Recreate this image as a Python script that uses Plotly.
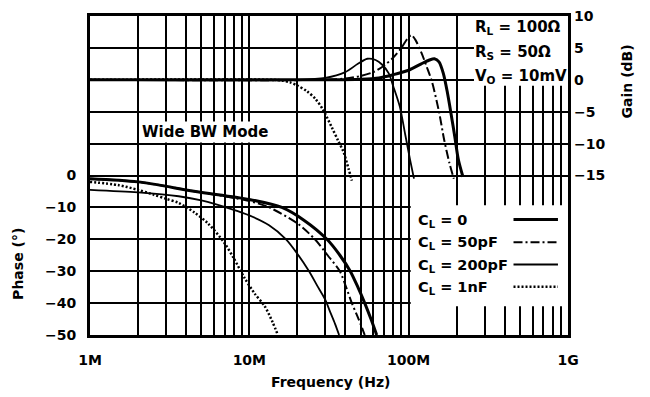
import plotly.graph_objects as go

MHZ = 1e6

# ---- Gain (dB) vs frequency (MHz) ----
gain_f_cl0 = [1, 10, 30, 50, 65, 80, 100, 120, 135, 145, 155, 165, 175, 185, 195, 205, 219]
gain_cl0 = [0, 0, 0, 0.1, 0.3, 0.8, 1.5, 2.5, 3.1, 3.3, 2.8, 1.0, -2.0, -5.5, -9.0, -12.5, -15.2]

gain_f_cl50 = [1, 30, 40, 50, 60, 70, 80, 90, 98, 104, 110, 120, 130, 140, 155, 167, 180, 192]
gain_cl50 = [0, 0, 0.2, 0.6, 1.2, 2.2, 3.5, 5.0, 6.4, 7.0, 6.3, 4.3, 2.0, -0.3, -5.0, -9.4, -13.0, -15.5]

gain_f_cl200 = [1, 20, 30, 40, 48, 55, 62, 68, 75, 80, 88, 95, 102, 108]
gain_cl200 = [0, 0, 0.3, 1.2, 2.5, 3.3, 3.1, 2.4, 1.0, -1.0, -4.2, -8.5, -12.5, -15.5]

gain_f_cl1n = [1, 14, 16, 18, 20, 23, 26, 29, 33, 36, 39, 42, 44]
gain_cl1n = [0, 0, -0.1, -0.4, -0.9, -1.8, -3.0, -4.7, -7.5, -9.5, -11.3, -14.0, -15.8]

# ---- Phase (deg) vs frequency (MHz) ----
phase_f_cl0 = [1, 2, 4.6, 10, 16, 22, 30.7, 37, 43, 48, 53, 58, 63]
phase_cl0 = [-1, -2, -5, -7.5, -10, -14, -20, -25, -30, -35, -40, -45, -50]

phase_f_cl50 = [1, 2, 4.6, 10, 13.3, 20, 25.8, 31, 37, 40.5, 44, 48.5, 53]
phase_cl50 = [-1, -2, -5, -8, -10, -15, -20, -25, -30, -35, -40, -45, -50]

phase_f_cl200 = [1, 2, 3.6, 5, 7.8, 10, 13.3, 17, 20, 23.7, 27, 30, 32, 34.5, 36.6]
phase_cl200 = [-4.5, -5.3, -6.5, -7.8, -10.6, -12.5, -15.6, -20, -24.5, -30, -35, -39, -42.5, -46.5, -50]

phase_f_cl1n = [1, 1.5, 2, 2.5, 3, 3.6, 4.5, 5.5, 6.9, 8, 9.3, 10.8, 12.5, 14, 15.1]
phase_cl1n = [-2, -3, -4.5, -6, -7.3, -8.6, -11.5, -15, -20.8, -26, -32, -37, -41, -46, -50]

# ---- Axis ticks ----
freq_major = [1e6, 1e7, 1e8, 1e9]
freq_major_text = ["1M", "10M", "100M", "1G"]
phase_ticks = [0, -10, -20, -30, -40, -50]
gain_ticks = [10, 5, 0, -5, -10, -15]

legend_labels = ["C<sub>L</sub> = 0", "C<sub>L</sub> = 50pF",
                 "C<sub>L</sub> = 200pF", "C<sub>L</sub> = 1nF"]
conditions = ["R<sub>L</sub> = 100Ω", "R<sub>S</sub> = 50Ω", "V<sub>O</sub> = 10mV"]

FONT = "DejaVu Sans"
styles = [
    dict(color="black", width=3, dash="solid"),
    dict(color="black", width=2, dash="9px,3px,2px,3px"),
    dict(color="black", width=1.8, dash="solid"),
    dict(color="black", width=2.5, dash="2px,2px"),
]


def minus(v):
    return str(v).replace("-", "\u2212")


# minor log grid: 2..9 multiples within each decade
minor_vals = [dec * m for dec in freq_major[:3] for m in range(2, 10)]

fig = go.Figure()

gain_sets = [(gain_f_cl0, gain_cl0), (gain_f_cl50, gain_cl50),
             (gain_f_cl200, gain_cl200), (gain_f_cl1n, gain_cl1n)]
phase_sets = [(phase_f_cl0, phase_cl0), (phase_f_cl50, phase_cl50),
              (phase_f_cl200, phase_cl200), (phase_f_cl1n, phase_cl1n)]

for (f, g), st in zip(gain_sets, styles):
    fig.add_trace(go.Scatter(x=[v * MHZ for v in f], y=g, mode="lines",
                             line=dict(shape="spline", smoothing=0.8, **st),
                             yaxis="y2", showlegend=False, hoverinfo="skip"))
for (f, p), st in zip(phase_sets, styles):
    fig.add_trace(go.Scatter(x=[v * MHZ for v in f], y=p, mode="lines",
                             line=dict(shape="spline", smoothing=0.8, **st),
                             yaxis="y", showlegend=False, hoverinfo="skip"))

axis_font = dict(family=FONT, size=14, color="black", weight="bold")

fig.update_layout(
    width=650, height=397,
    margin=dict(l=90, r=82, t=8, b=62),
    paper_bgcolor="white", plot_bgcolor="white",
    showlegend=False,
    xaxis=dict(type="log", range=[6, 9], tickvals=freq_major, ticktext=freq_major_text,
               showgrid=True, gridcolor="black", gridwidth=1.8,
               minor=dict(tickvals=minor_vals, showgrid=True, gridcolor="black",
                          gridwidth=1.5, ticks=""),
               showline=True, linecolor="black", linewidth=3, mirror=True,
               ticks="", ticklabelstandoff=10, tickfont=axis_font, zeroline=False),
    yaxis=dict(range=[-50, 50], tickvals=phase_ticks,
               ticktext=[minus(v) for v in phase_ticks],
               showgrid=True, gridcolor="black", gridwidth=2,
               showline=True, linecolor="black", linewidth=3, mirror=True,
               ticks="", ticklabelstandoff=8, tickfont=axis_font, zeroline=False),
    yaxis2=dict(range=[-40, 10], overlaying="y", side="right",
                tickvals=gain_ticks, ticktext=[minus(v) for v in gain_ticks],
                showgrid=True, gridcolor="black", gridwidth=2,
                showline=False, ticks="", ticklabelstandoff=5,
                tickfont=axis_font, zeroline=False),
)

# blank panels behind the condition text and the legend
fig.add_shape(type="rect", xref="x", yref="y", x0=2.57e8, x1=1e9, y0=28.1, y1=50,
              fillcolor="white", line=dict(width=0), layer="between")
fig.add_shape(type="rect", xref="x", yref="y", x0=1.03e8, x1=1e9, y0=-41, y1=-9.3,
              fillcolor="white", line=dict(width=0), layer="between")

txt_font = dict(family=FONT, size=15, color="black", weight="bold")

# test conditions
for label, yp in zip(conditions, [0.963, 0.887, 0.810]):
    fig.add_annotation(text=label, xref="paper", yref="paper", x=0.801, y=yp,
                       xanchor="left", yanchor="middle", showarrow=False, font=txt_font)

# legend rows: label then line sample
legend_font = dict(family=FONT, size=14.5, color="black", weight="bold")
legend_y = [0.358, 0.287, 0.217, 0.147]
for label, yp, st in zip(legend_labels, legend_y, styles):
    fig.add_annotation(text=label, xref="paper", yref="paper", x=0.682, y=yp,
                       xanchor="left", yanchor="middle", showarrow=False, font=legend_font)
    fig.add_shape(type="line", xref="paper", yref="paper", x0=0.886, x1=0.979,
                  y0=yp + 0.004, y1=yp + 0.004, layer="above",
                  line=dict(color="black", width=st["width"], dash=st["dash"]))

fig.add_annotation(text="Wide BW Mode", xref="paper", yref="paper", x=0.2406, y=0.636,
                   xanchor="center", yanchor="middle", showarrow=False,
                   bgcolor="white", font=dict(family=FONT, size=15, color="black", weight="bold"))

fig.add_annotation(text="Frequency (Hz)", xref="paper", yref="paper", x=0.504, y=-0.147,
                   xanchor="center", yanchor="middle", showarrow=False,
                   font=dict(family=FONT, size=14, color="black", weight="bold"))
fig.add_annotation(text="Phase (°)", xref="paper", yref="paper", x=-0.1506, y=0.223,
                   xanchor="center", yanchor="middle", textangle=-90, showarrow=False,
                   font=dict(family=FONT, size=14, color="black", weight="bold"))
fig.add_annotation(text="Gain (dB)", xref="paper", yref="paper", x=1.1234, y=0.795,
                   xanchor="center", yanchor="middle", textangle=-90, showarrow=False,
                   font=dict(family=FONT, size=14, color="black", weight="bold"))

fig.write_html("out.html")
